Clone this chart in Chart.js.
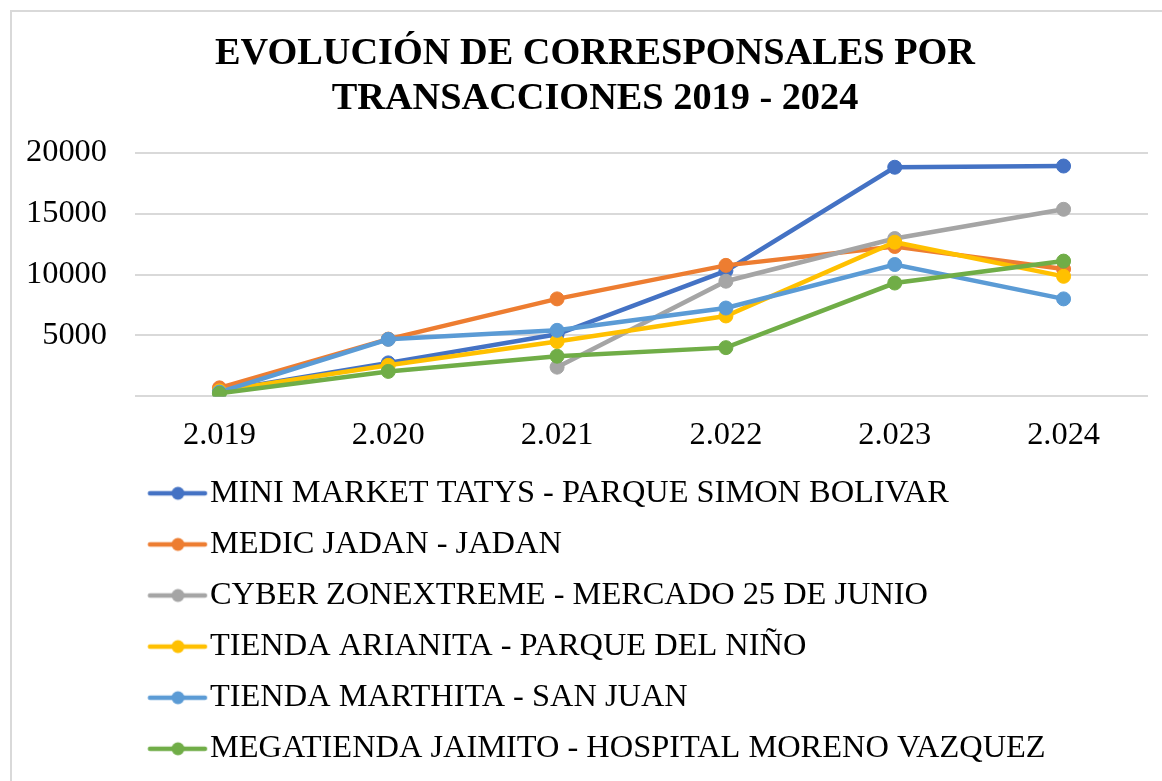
<!DOCTYPE html>
<html>
<head>
<meta charset="utf-8">
<script src="https://cdn.jsdelivr.net/npm/chart.js@4.4.1/dist/chart.umd.min.js"></script>
<style>
  html, body { margin: 0; padding: 0; background: #ffffff; }
  #wrap { position: relative; width: 1162px; height: 781px; overflow: hidden; }
  #frame { position: absolute; left: 10px; top: 10px; width: 1200px; height: 900px;
           border-left: 2px solid #d9d9d9; border-top: 2px solid #d9d9d9; pointer-events: none; }
  canvas { position: absolute; left: 0; top: 0; }
</style>
</head>
<body>
<div id="wrap">
  <div id="frame"></div>
  <canvas id="c" width="1162" height="781"></canvas>
</div>
<script>
const categories = ['2.019', '2.020', '2.021', '2.022', '2.023', '2.024'];
const seriesNames = [
  'MINI MARKET TATYS - PARQUE SIMON BOLIVAR',
  'MEDIC JADAN - JADAN',
  'CYBER ZONEXTREME - MERCADO 25 DE JUNIO',
  'TIENDA ARIANITA - PARQUE DEL NIÑO',
  'TIENDA MARTHITA - SAN JUAN',
  'MEGATIENDA JAIMITO - HOSPITAL MORENO VAZQUEZ'
];
const miniMarket = [450, 2750, 5100, 10300, 18800, 18900];
const medicJadan = [700, 4700, 8000, 10750, 12300, 10450];
const cyberZone = [null, null, 2400, 9450, 12950, 15350];
const tiendaArianita = [450, 2550, 4500, 6600, 12650, 9850];
const tiendaMarthita = [350, 4680, 5420, 7250, 10820, 8000];
const megatienda = [250, 2050, 3300, 4000, 9300, 11100];
const yTicks = [0, 5000, 10000, 15000, 20000];

const seriesValues = [miniMarket, medicJadan, cyberZone, tiendaArianita, tiendaMarthita, megatienda];
const colors = ['#4472C4', '#ED7D31', '#A5A5A5', '#FFC000', '#5B9BD5', '#70AD47'];

const FONT = "'Liberation Serif', 'Times New Roman', serif";
const padLeft = 42;
const legendFont = 32.4;
const legendPad = 18.7;
const textStartX = 210;
const boxW = textStartX - legendFont / 2 - legendPad - padLeft;
const lineX0 = 150, lineX1 = 205, dotX = 178;

function makeMarker(color) {
  const centerX = padLeft + legendPad + boxW / 2;
  const halfW = Math.ceil(Math.max(lineX1 - centerX, centerX - lineX0) + 4);
  const cv = document.createElement('canvas');
  cv.width = halfW * 2;
  cv.height = 20;
  const left = centerX - halfW;
  const g = cv.getContext('2d');
  g.strokeStyle = color;
  g.lineWidth = 4.5;
  g.lineCap = 'round';
  g.beginPath();
  g.moveTo(lineX0 - left, 10);
  g.lineTo(lineX1 - left, 10);
  g.stroke();
  g.fillStyle = color;
  g.beginPath();
  g.arc(dotX - left, 10, 6.5, 0, Math.PI * 2);
  g.fill();
  return cv;
}
const markers = colors.map(makeMarker);

const datasets = seriesNames.map((name, i) => ({
  label: name,
  data: seriesValues[i],
  borderColor: colors[i],
  backgroundColor: colors[i],
  pointBackgroundColor: colors[i],
  pointBorderColor: colors[i],
  borderWidth: 4.5,
  pointRadius: 7,
  pointBorderWidth: 1,
  pointHoverRadius: 7,
  tension: 0,
  spanGaps: false,
  order: seriesNames.length - i
}));

// let the y-axis label area reach the left edge so long labels are not clipped
const widenYAxis = {
  id: 'widenYAxis',
  afterLayout(chart) {
    const s = chart.scales.y;
    s.width += s.left;
    s.left = 0;
  }
};

new Chart(document.getElementById('c'), {
  type: 'line',
  data: { labels: categories, datasets },
  plugins: [widenYAxis],
  options: {
    responsive: false,
    animation: false,
    devicePixelRatio: 1,
    layout: { padding: { left: padLeft, right: 14, top: 0, bottom: 6 } },
    plugins: {
      tooltip: { enabled: false },
      title: {
        display: true,
        text: ['EVOLUCIÓN DE CORRESPONSALES POR', 'TRANSACCIONES 2019 - 2024'],
        color: '#000000',
        font: { family: FONT, size: 38.3, weight: 'bold', lineHeight: 1.17 },
        padding: { top: 31.5, bottom: 31.5 }
      },
      legend: {
        position: 'bottom',
        align: 'start',
        labels: {
          color: '#000000',
          font: { family: FONT, size: legendFont },
          padding: legendPad,
          usePointStyle: true,
          pointStyleWidth: boxW,
          sort: (a, b) => a.datasetIndex - b.datasetIndex,
          generateLabels: (chart) => {
            const items = Chart.defaults.plugins.legend.labels.generateLabels(chart);
            items.forEach(it => { it.pointStyle = markers[it.datasetIndex]; });
            return items;
          }
        }
      }
    },
    scales: {
      x: {
        offset: true,
        grid: { display: false, drawTicks: false },
        border: { display: false },
        ticks: { color: '#000000', font: { family: FONT, size: 32.4 }, padding: 20, maxRotation: 0 },
        afterFit: (s) => { s.height = 62; }
      },
      y: {
        min: 0,
        max: 20000,
        afterBuildTicks: (s) => { s.ticks = yTicks.map(v => ({ value: v })); },
        grid: { color: '#d9d9d9', lineWidth: 2, drawTicks: false },
        border: { display: false },
        ticks: {
          color: '#000000',
          font: { family: FONT, size: 32.4 },
          padding: 28,
          callback: (v) => (v === 0 ? '' : String(v))
        },
        afterFit: (s) => { s.width = 135 - padLeft; }
      }
    }
  }
});
</script>
</body>
</html>
